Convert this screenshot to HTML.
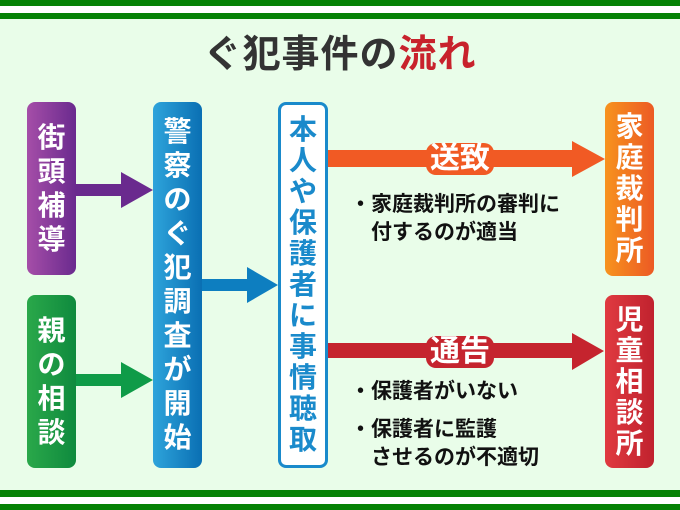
<!DOCTYPE html>
<html><head><meta charset="utf-8"><style>
body{margin:0}
#c{position:relative;width:680px;height:510px;background:#e9fde9;overflow:hidden;font-family:"Liberation Sans","Noto Sans CJK JP",sans-serif}
.b{position:absolute;border-radius:8px;display:flex;flex-direction:column;align-items:center;justify-content:center;color:#fff;font-weight:bold;font-size:28px;line-height:1;box-sizing:border-box}
.t{position:absolute;font-weight:bold;font-size:21px;color:#111;line-height:1;white-space:nowrap}
.lab{position:absolute;font-weight:bold;font-size:30px;color:#fff;line-height:1}
</style></head><body><div id="c">
<div style="position:absolute;left:0;top:0;width:680px;height:6px;background:#058205"></div>
<div style="position:absolute;left:0;top:6px;width:680px;height:7px;background:#fff"></div>
<div style="position:absolute;left:0;top:13px;width:680px;height:6px;background:#058205"></div>
<div style="position:absolute;left:0;top:490px;width:680px;height:7px;background:#058205"></div>
<div style="position:absolute;left:0;top:497px;width:680px;height:7px;background:#fff"></div>
<div style="position:absolute;left:0;top:504px;width:680px;height:6px;background:#058205"></div>
<div style="position:absolute;left:0;top:36px;width:680px;text-align:center;font-size:38px;font-weight:bold;color:#333;line-height:1;letter-spacing:1px">ぐ犯事件の<span style="color:#c8222c">流れ</span></div>
<svg style="position:absolute;left:0;top:0" width="680" height="510">
<path d="M76 184H121V172L153 190L121 208V196H76Z" fill="#6a2a8e"/>
<path d="M76 374H121V362L153 380L121 398V386H76Z" fill="#0f9b48"/>
<path d="M202 279H247V267L278 285L247 303V291H202Z" fill="#0d7ec0"/>
<path d="M328 150H572V141L605 159L572 177V167H328Z" fill="#f15a24"/>
<path d="M328 343H572V333L604 351L572 370V358H328Z" fill="#c5242e"/>
</svg>
<div class="b" style="left:27px;top:102px;width:49px;height:173px;gap:6px;background:linear-gradient(90deg,#a54ea8,#6a2a8e)"><span>街</span><span>頭</span><span>補</span><span>導</span></div>
<div class="b" style="left:27px;top:295px;width:49px;height:173px;gap:6px;background:linear-gradient(90deg,#2aa84a,#0f8a3e)"><span>親</span><span>の</span><span>相</span><span>談</span></div>
<div class="b" style="left:153px;top:102px;width:49px;height:366px;gap:6px;background:linear-gradient(90deg,#2ea4db,#0a6fb3)"><span>警</span><span>察</span><span>の</span><span>ぐ</span><span>犯</span><span>調</span><span>査</span><span>が</span><span>開</span><span>始</span></div>
<div class="b" style="left:278px;top:102px;width:50px;height:366px;gap:3px;background:#fff;border:3px solid #1a8acb;color:#1a8acb"><span>本</span><span>人</span><span>や</span><span>保</span><span>護</span><span>者</span><span>に</span><span>事</span><span>情</span><span>聴</span><span>取</span></div>
<div class="b" style="left:605px;top:102px;width:49px;height:174px;gap:3px;background:linear-gradient(90deg,#f7931e,#ec5a24)"><span>家</span><span>庭</span><span>裁</span><span>判</span><span>所</span></div>
<div class="b" style="left:605px;top:295px;width:49px;height:173px;gap:3px;background:linear-gradient(90deg,#e03a40,#c0222e)"><span>児</span><span>童</span><span>相</span><span>談</span><span>所</span></div>
<div class="lab" style="left:426px;top:143px;padding:1px 4px;background:#f15a24;border-radius:10px">送致</div>
<div class="lab" style="left:426px;top:336px;padding:1px 4px;background:#c5242e;border-radius:10px">通告</div>
<div class="t" style="left:350px;top:194px">・家庭裁判所の審判に</div>
<div class="t" style="left:371px;top:222px">付するのが適当</div>
<div class="t" style="left:350px;top:381px">・保護者がいない</div>
<div class="t" style="left:350px;top:419px">・保護者に監護</div>
<div class="t" style="left:371px;top:447px">させるのが不適切</div>
</div></body></html>
